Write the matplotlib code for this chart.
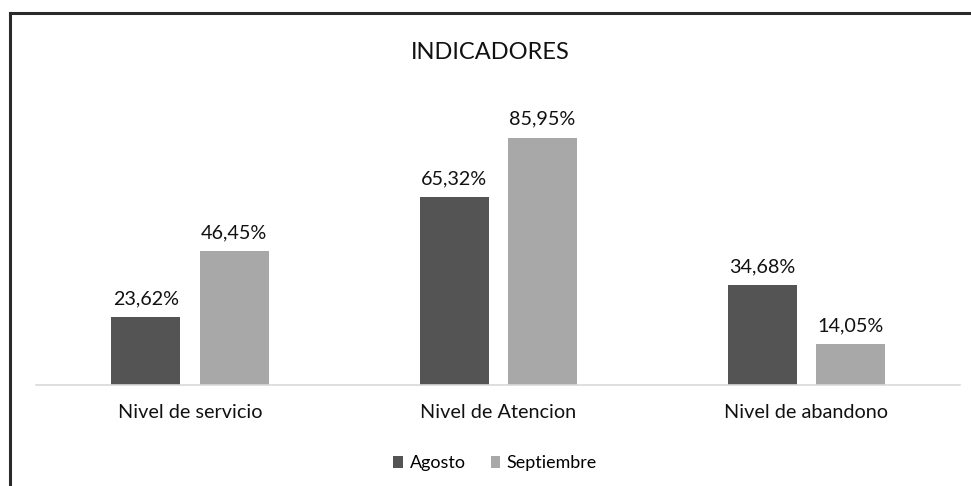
import numpy as np
import matplotlib.pyplot as plt
from matplotlib.lines import Line2D

plt.rcParams['font.family'] = ['Lato', 'DejaVu Sans']

categorias = ['Nivel de servicio', 'Nivel de Atencion', 'Nivel de abandono']
agosto = [23.62, 65.32, 34.68]
septiembre = [46.45, 85.95, 14.05]
series = ['Agosto', 'Septiembre']
colores = ['#545454', '#a8a8a8']

fig = plt.figure(figsize=(9.71, 4.86), dpi=100)
ax = fig.add_axes([0.037, 0.208, 0.952, 0.592])

x = np.arange(len(categorias))
w = 0.224
off = 0.143
b1 = ax.bar(x - off, agosto, w, color=colores[0], label=series[0])
b2 = ax.bar(x + off, septiembre, w, color=colores[1], label=series[1])

for bars, vals in ((b1, agosto), (b2, septiembre)):
    for r, v in zip(bars, vals):
        ax.text(r.get_x() + r.get_width() / 2, v + 3.5, f'{v:.2f}%'.replace('.', ','),
                ha='center', va='bottom', fontsize=14.2, color='#111111')

ax.set_xlim(-0.5, 2.5)
ax.set_ylim(0, 100)
ax.set_yticks([])
ax.set_xticks(x)
ax.set_xticklabels(categorias, fontsize=14.3, color='#111111')
ax.tick_params(axis='x', length=0, pad=14)
for s in ['top', 'right', 'left']:
    ax.spines[s].set_visible(False)
ax.spines['bottom'].set_color('#d9d9d9')
ax.spines['bottom'].set_linewidth(1.2)

fig.text(0.505, 0.893, 'INDICADORES', ha='center', va='center', fontsize=17, color='#111111')

leg = fig.legend(loc='center', bbox_to_anchor=(0.51, 0.047), ncol=2, frameon=False,
                 fontsize=12.9, handlelength=0.55, handleheight=0.6, handletextpad=0.35,
                 columnspacing=1.4)

# borde del recuadro escaneado
fig.add_artist(Line2D([0.0103, 0.0103], [0.0, 0.973], color='#2a2a2a', lw=2.2))
fig.add_artist(Line2D([0.0103, 1.0], [0.973, 0.973], color='#2a2a2a', lw=2.2))

fig.savefig('out.png', dpi=100)
